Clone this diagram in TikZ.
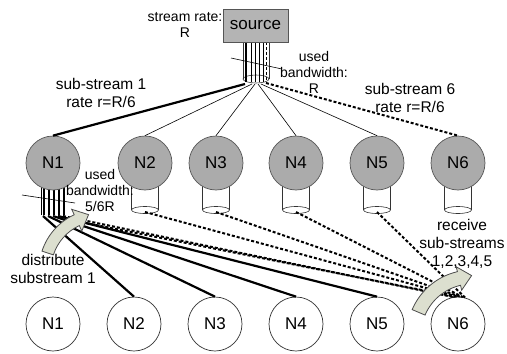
\documentclass[tikz,border=0pt]{standalone}
\usepackage{fontspec}
\setmainfont{Liberation Sans}
\definecolor{arrowfill}{HTML}{DCDFCF}
\definecolor{nodegray}{HTML}{ABABAB}
\definecolor{srcgray}{HTML}{B4B4B4}
\definecolor{edgegray}{HTML}{555555}
\begin{document}
\begin{tikzpicture}[x=1pt,y=-1pt,
 topnode/.style={circle,draw=edgegray,fill=nodegray,minimum size=54pt,inner sep=0pt,font=\fontsize{17}{18}\selectfont,line width=0.7pt},
 botnode/.style={circle,draw=black!80,fill=white,minimum size=54pt,inner sep=0pt,font=\fontsize{17}{18}\selectfont,line width=0.7pt},
 srcbox/.style={rectangle,draw=edgegray,fill=srcgray,minimum width=65pt,minimum height=33pt,inner sep=0pt,font=\fontsize{17}{18}\selectfont,line width=0.7pt},
 lbl/.style={align=center,inner sep=0pt,font=\fontsize{15.5}{18}\selectfont},
 lblsm/.style={align=center,inner sep=0pt,font=\fontsize{14}{16}\selectfont},
 thickline/.style={line width=2.2pt},
 thinline/.style={line width=0.6pt},
 dashline/.style={line width=2pt,dash pattern=on 3pt off 2pt},
 cyl/.style={line width=0.6pt,draw=black!80},
 bigarrow/.style={fill=arrowfill,draw=black!70,line width=0.8pt}
]
\useasboundingbox (0,0) rectangle (507,354);

% ---------- source and its cylinder ----------
\draw[cyl] (243,42) -- (243,79) (269,42) -- (269,79);
\draw[cyl] (256,79) ellipse [x radius=13, y radius=4];
\draw[thickline] (246,42) -- (246,82);
\draw[thinline] (251,42) -- (251,82) (255,42) -- (255,82) (259,42) -- (259,82) (263,42) -- (263,82);
\draw[line width=1.6pt,dash pattern=on 3pt off 2pt] (266.5,42) -- (266.5,82);
\node[srcbox] (src) at (255.5,25.5) {source};

\coordinate (s1) at (245,84);
\coordinate (s2) at (252,84);
\coordinate (s3) at (255,84);
\coordinate (s4) at (258,84);
\coordinate (s5) at (261,84);
\coordinate (s6) at (266,83);

% ---------- cylinders under N2..N6 ----------
\foreach \cx/\nm in {145/c2,216/c3,296/c4,377/c5,458/c6}{
  \draw[cyl] (\cx-13.5,185) -- (\cx-13.5,210) (\cx+13.5,185) -- (\cx+13.5,210);
  \draw[cyl] (\cx,210) ellipse [x radius=13.5, y radius=3.5];
  \coordinate (\nm) at (\cx,212);
}

% ---------- cylinder under N1 ----------
\draw[thinline] (41,180) -- (41,215);
\foreach \xx in {44,49,54,59,64}{
  \draw[line width=1.8pt] (\xx,180) -- (\xx,215);
}
\coordinate (f2) at (43,216);
\coordinate (f3) at (48,216);
\coordinate (f4) at (53,216);
\coordinate (f5) at (58,216);
\coordinate (f6) at (63,216);
\coordinate (f7) at (66,219);

% ---------- top nodes ----------
\node[topnode] (t1) at (53,163) {N1};
\node[topnode] (t2) at (145,163) {N2};
\node[topnode] (t3) at (216,163) {N3};
\node[topnode] (t4) at (296,163) {N4};
\node[topnode] (t5) at (377,163) {N5};
\node[topnode] (t6) at (458,163) {N6};

% ---------- bottom nodes ----------
\node[botnode] (b1) at (53,324) {N1};
\node[botnode] (b2) at (134,324) {N2};
\node[botnode] (b3) at (215,324) {N3};
\node[botnode] (b4) at (296,324) {N4};
\node[botnode] (b5) at (377,324) {N5};
\node[botnode] (b6) at (458,324) {N6};

% ---------- source to top nodes ----------
\draw[thickline] (s1) -- (t1.north);
\draw[thinline] (s2) -- (t2.north);
\draw[thinline] (s3) -- (t3.north);
\draw[thinline] (s4) -- (t4.north);
\draw[thinline] (s5) -- (t5.north);
\draw[dashline] (s6) -- (t6.north);

% ---------- N1 distributes ----------
\draw[thickline] (f2) -- (b2.north);
\draw[thickline] (f3) -- (b3.north);
\draw[thickline] (f4) -- (b4.north);
\draw[thickline] (f5) -- (b5.north);
\draw[dashline] (f6) -- (b6.100);
\draw[dashline] (f7) -- (b6.95);

% ---------- N2..N5 to N6 ----------
\draw[dashline] (c2) -- (b6.90);
\draw[dashline] (c3) -- (b6.85);
\draw[dashline] (c4) -- (b6.80);
\draw[dashline] (c5) -- (b6.75);

% ---------- pointer lines ----------
\coordinate (p1a) at (231,58);
\coordinate (p1b) at (282,69);
\draw[thinline] (p1a) -- (p1b);
\coordinate (p2a) at (22,195);
\coordinate (p2b) at (75,203);
\draw[thinline] (p2a) -- (p2b);

% ---------- labels ----------
\node[lblsm] (lrate) at (185,25) {stream rate:\\R};
\node[lblsm] (lused) at (314,72) {used\\bandwidth:\\R};
\node[lbl] (lsub1) at (101,93) {sub-stream 1\\rate r=R/6};
\node[lbl] (lsub6) at (410,98) {sub-stream 6\\rate r=R/6};
\node[lblsm] (lused1) at (100,190) {used\\bandwidth:\\5/6R};
\node[lbl] (ldist) at (53,269) {distribute\\substream 1};
\node[lbl] (lrecv) at (462,244) {receive\\sub-streams\\1,2,3,4,5};

% ---------- curved block arrows ----------
\begin{scope}[shift={(100,270)},y=1pt]
\filldraw[bigarrow] (162:61) arc[start angle=162,end angle=115,radius=61] -- (115:67) -- (-11.46,55.35) -- (115:43) -- (115:49) arc[start angle=115,end angle=162,radius=49] -- cycle;
\end{scope}
\begin{scope}[shift={(472,335)},y=1pt]
\filldraw[bigarrow] (157:65) arc[start angle=157,end angle=103,radius=65] -- (103:70) -- (-0.38,59.43) -- (103:46) -- (103:51) arc[start angle=103,end angle=157,radius=51] -- cycle;
\end{scope}
\end{tikzpicture}
\end{document}
